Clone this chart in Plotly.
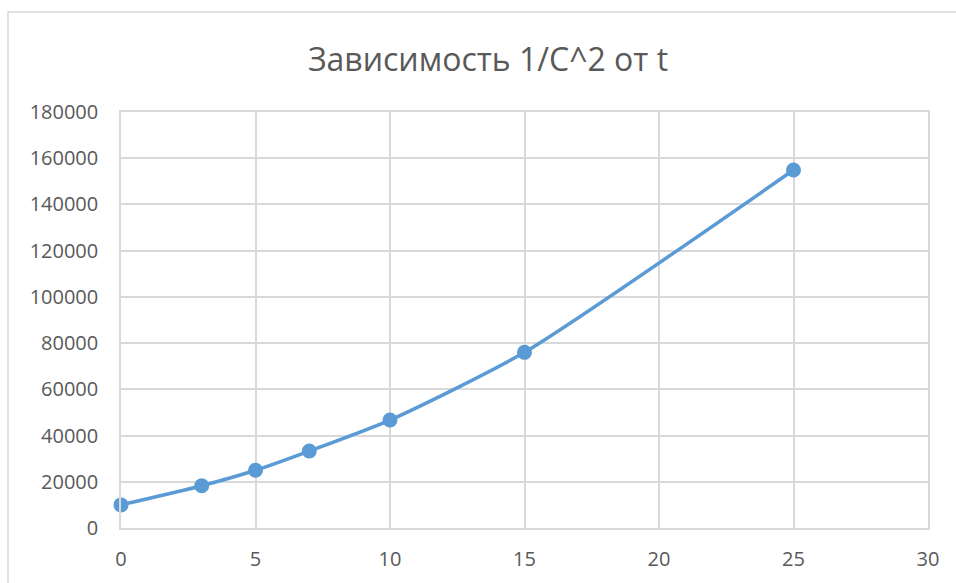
import plotly.graph_objects as go

# Measured data: time t and 1/C^2
t_values = [0, 3, 5, 7, 10, 15, 25]
inv_c2 = [10000, 18300, 25000, 33300, 46700, 76000, 154900]

title_text = "Зависимость 1/C^2 от t"
x_ticks = [0, 5, 10, 15, 20, 25, 30]
y_ticks = [0, 20000, 40000, 60000, 80000, 100000, 120000, 140000, 160000, 180000]

line_color = "#5B9BD5"
grid_color = "#D9D9D9"
text_color = "#595959"
font_family = "Open Sans, Noto Sans, sans-serif"

fig = go.Figure()
fig.add_trace(go.Scatter(
    x=t_values,
    y=inv_c2,
    mode="lines+markers",
    line=dict(color=line_color, width=3.5, shape="spline", smoothing=0.6),
    marker=dict(color=line_color, size=15),
    showlegend=False,
    cliponaxis=False,
))

W, H = 956, 583
L, R, T, B = 121, 28, 112, 55
pw, ph = W - L - R, H - T - B

def px_to_paper_x(px):
    return (px - L) / pw

def px_to_paper_y(py):
    return (H - B - py) / ph

# Outer chart frame
fig.add_shape(
    type="rect", xref="paper", yref="paper",
    x0=px_to_paper_x(8), x1=px_to_paper_x(1000),
    y0=px_to_paper_y(640), y1=px_to_paper_y(12),
    line=dict(color=grid_color, width=1.5), fillcolor="rgba(0,0,0,0)",
    layer="below",
)

fig.update_layout(
    width=W, height=H,
    margin=dict(l=L, r=R, t=T, b=B, autoexpand=False),
    paper_bgcolor="white",
    plot_bgcolor="white",
    title=dict(
        text=title_text,
        x=488 / W, xanchor="center",
        y=1 - 60 / H, yanchor="middle",
        font=dict(family=font_family, size=32, color=text_color),
    ),
    xaxis=dict(
        range=[0, 30], tickvals=x_ticks, automargin=False,
        showgrid=True, gridcolor=grid_color, gridwidth=1.5,
        zeroline=False, showline=True, linecolor=grid_color, linewidth=1.5,
        mirror=True, ticks="", ticklabelstandoff=12,
        tickfont=dict(family=font_family, size=20, color=text_color),
    ),
    yaxis=dict(
        range=[0, 180000], tickvals=y_ticks, automargin=False,
        showgrid=True, gridcolor=grid_color, gridwidth=1.5,
        zeroline=False, showline=True, linecolor=grid_color, linewidth=1.5,
        mirror=True, ticks="", ticklabelstandoff=17,
        tickformat="d",
        tickfont=dict(family=font_family, size=20, color=text_color),
    ),
)

fig.write_html("out.html")
